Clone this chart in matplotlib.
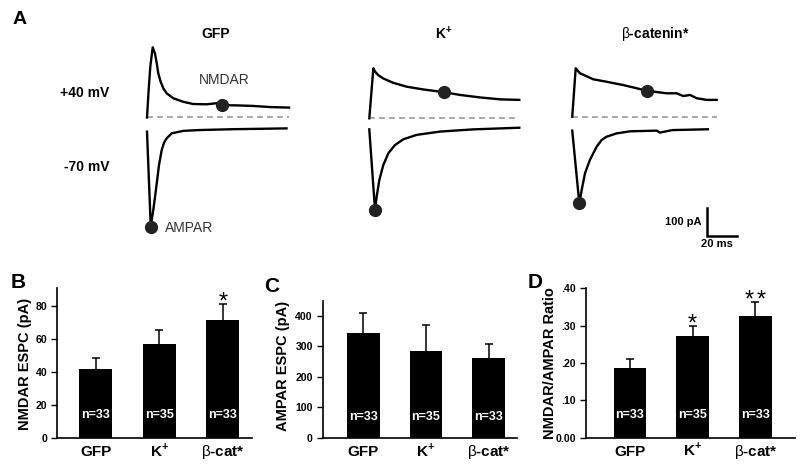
"""NMDAR / AMPAR currents: example traces and summary bars
"""

import numpy as np
import matplotlib.pyplot as plt
from matplotlib.transforms import blended_transform_factory

plt.rcParams['font.family'] = ['Liberation Sans', 'DejaVu Sans']
plt.rcParams['mathtext.fontset'] = 'custom'
plt.rcParams['mathtext.rm'] = 'Liberation Sans'
plt.rcParams['mathtext.bf'] = 'Liberation Sans:bold'

# Summary data (mean, sem)
groups = ['GFP', r'K$^{\mathbf{+}}$', r'$\mathrm{β}$-cat*']
n_cells = [33, 35, 33]
nmdar_mean = [42, 57, 71.5]
nmdar_sem = [6.5, 8.5, 10]
ampar_mean = [342, 284, 262]
ampar_sem = [66, 84, 44]
ratio_mean = [0.187, 0.272, 0.325]
ratio_sem = [0.025, 0.027, 0.039]
nmdar_stars = [0, 0, 1]
ratio_stars = [0, 1, 2]

# Example traces (ms, pA)
trace_titles = ['GFP', r'K$^{\mathbf{+}}$', r'$\mathrm{β}$-catenin*']
gfp_40_t = [0, 1.1, 2.2, 3.8, 5.3, 6.5, 7.5, 9.1, 10.9, 13.1, 17.5, 24.2, 30.9, 39.8,
            46.5, 48.7, 60, 70.7, 82, 94.7]
gfp_40_i = [0, 100, 185, 255, 233, 197, 161, 130, 106, 88, 70, 57, 49, 48,
            52, 45, 44, 42, 38, 36]
gfp_70_t = [0, 2.5, 4.2, 6.5, 8, 9.8, 11.3, 13.1, 16.5, 24.2, 35.3, 57.3, 93]
gfp_70_i = [-8, -353, -293, -196, -129, -75, -49, -32, -14, -5, -2, 1, 4]
k_40_t = [0, 2.7, 3.8, 6, 9.3, 16, 24.9, 36, 49.8, 60.5, 73.8, 87.1, 100]
k_40_i = [0, 182, 170, 157, 145, 129, 115, 105, 95, 85, 76, 69, 67]
k_70_t = [0, 3.8, 4.9, 6.7, 9.3, 12.7, 17.1, 22.7, 31.6, 47.1, 69.3, 100]
k_70_i = [-5, -298, -250, -189, -135, -92, -62, -41, -25, -13, -5, 1]
bc_40_t = [0, 2.3, 5.1, 14.0, 22.9, 34, 50, 62.9, 69.6, 74, 78.5, 83, 89.6, 96.3]
bc_40_i = [0, 176, 158, 136, 127, 115, 94, 85, 85, 75, 79, 67, 61, 61]
bc_70_t = [0, 4.7, 6.5, 8.5, 11.8, 16.3, 19.6, 22.9, 29.6, 38.5, 56.3, 58.5, 66.7, 90.4]
bc_70_i = [-6, -270, -216, -161, -112, -64, -40, -28, -16, -8.5, -6, -13, -4, -1]
nmdar_time = 50  # ms, where NMDAR component is read

# layout of the traces (ms / pA offsets)
T_SHIFT = [0, 148.2, 283.5]
Y40_SHIFT = [0, -3, 3]
Y70_SHIFT = [-43.6, -38.2, -41.8]

W, H = 800, 470
fig = plt.figure(figsize=(8, 4.7), dpi=100)


def px_text(x, y, s, **kw):
    fig.text(x / W, 1 - y / H, s, **kw)


def px_axes(left, top, right, bottom):
    return fig.add_axes([left / W, 1 - bottom / H, (right - left) / W, (bottom - top) / H])


# ---------------- panel A: traces ----------------
ax = px_axes(57, 8, 777, 262)
ax.set_xlim(-60, 420)
ax.set_ylim(-525.5, 398.2)
ax.axis('off')

traces = [(gfp_40_t, gfp_40_i, gfp_70_t, gfp_70_i),
          (k_40_t, k_40_i, k_70_t, k_70_i),
          (bc_40_t, bc_40_i, bc_70_t, bc_70_i)]
for k, (t40, i40, t70, i70) in enumerate(traces):
    t40 = np.array(t40) + T_SHIFT[k]
    t70 = np.array(t70) + T_SHIFT[k]
    y40 = np.array(i40) + Y40_SHIFT[k]
    y70 = np.array(i70) + Y70_SHIFT[k]
    ax.plot([t40[0], t40[-1]], [Y40_SHIFT[k]] * 2, ls=(0, (3.5, 2.5)), color='#9a9a9a', lw=1.2)
    ax.plot(t40, y40, color='black', lw=1.7, solid_joinstyle='round')
    ax.plot(t70, y70, color='black', lw=1.7, solid_joinstyle='round')
    tn = nmdar_time + T_SHIFT[k]
    ax.plot(tn, np.interp(tn, t40, y40), 'o', ms=8.5, color='#222222')
    imin = int(np.argmin(y70))
    ax.plot(t70[imin], y70[imin], 'o', ms=8.5, color='#222222')

# scale bar: 100 pA, 20 ms
sb_t, sb_i = 373.1, -429.8
ax.plot([sb_t, sb_t, sb_t + 20], [sb_i + 100, sb_i, sb_i], color='black', lw=1.8,
        solid_joinstyle='miter')
ax.text(sb_t - 3.5, sb_i + 50, '100 pA', ha='right', va='center', fontsize=8, fontweight='bold')
ax.text(sb_t + 7, sb_i - 12, '20 ms', ha='center', va='top', fontsize=8, fontweight='bold')

px_text(20, 19.5, 'A', fontsize=14, fontweight='bold', ha='center', va='center')
for xc, title in zip([216, 444, 655], trace_titles):
    px_text(xc, 34, title, fontsize=10, fontweight='bold', ha='center', va='center')
px_text(85, 92.7, '+40 mV', fontsize=10, fontweight='bold', ha='center', va='center')
px_text(87, 166.7, '-70 mV', fontsize=10, fontweight='bold', ha='center', va='center')
px_text(224, 80, 'NMDAR', fontsize=10, color='#333333', ha='center', va='center')
px_text(165, 228, 'AMPAR', fontsize=10, color='#333333', ha='left', va='center')


# ---------------- panels B, C, D: bars ----------------
def bar_panel(box, means, sems, stars, ylim, yticks, yticklabels, xlim, ylabel, ylabel_px):
    bx = px_axes(*box)
    x = np.arange(len(means))
    bx.bar(x, means, width=0.52, color='black', zorder=2)
    bx.errorbar(x, means, yerr=sems, fmt='none', ecolor='black',
                elinewidth=1.1, capsize=3, capthick=1.1, zorder=1)
    tr = blended_transform_factory(bx.transData, bx.transAxes)
    for xi, n in zip(x, n_cells):
        bx.text(xi, 0.15, 'n=%d' % n, transform=tr, color='white', fontsize=9,
                fontweight='bold', ha='center', va='center')
    for xi, m, s, ns in zip(x, means, sems, stars):
        for j in range(ns):
            dx = 0 if ns == 1 else (j - 0.5) * 9
            bx.annotate('*', xy=(xi, m + s), xytext=(dx, -3.5), textcoords='offset points',
                        ha='center', va='baseline', fontsize=17)
    bx.set_xlim(*xlim)
    bx.set_ylim(*ylim)
    bx.set_xticks(x)
    bx.set_xticklabels(groups, fontsize=11, fontweight='bold', va='baseline')
    bx.set_yticks(yticks)
    bx.set_yticklabels(yticklabels, fontsize=7.6, fontweight='bold')
    bx.tick_params(axis='x', length=0, pad=13)
    bx.tick_params(axis='y', direction='out', length=4, width=1, pad=3)
    for side in ['top', 'right']:
        bx.spines[side].set_visible(False)
    for side in ['left', 'bottom']:
        bx.spines[side].set_linewidth(1.2)
    px_text(ylabel_px[0], ylabel_px[1], ylabel, rotation=90, fontsize=10.5, fontweight='bold',
            ha='center', va='center')
    return bx


bar_panel((57, 288, 252, 438), nmdar_mean, nmdar_sem, nmdar_stars, (0, 91),
          [0, 20, 40, 60, 80], ['0', '20', '40', '60', '80'], (-0.61, 2.46),
          'NMDAR ESPC (pA)', (25, 364))
bar_panel((322.7, 300.7, 516.7, 438), ampar_mean, ampar_sem, [0, 0, 0], (0, 449),
          [0, 100, 200, 300, 400], ['0', '100', '200', '300', '400'], (-0.65, 2.45),
          'AMPAR ESPC (pA)', (283, 366))
bar_panel((586, 288.3, 795, 437.7), ratio_mean, ratio_sem, ratio_stars, (0, 0.40),
          [0, 0.1, 0.2, 0.3, 0.4], ['0.00', '.10', '.20', '.30', '.40'], (-0.70, 2.63),
          'NMDAR/AMPAR Ratio', (550, 363))

for xc, yc, letter in zip([18, 272, 535], [282, 286, 282], 'BCD'):
    px_text(xc, yc, letter, fontsize=15, fontweight='bold', ha='center', va='center')

fig.savefig('out.png', dpi=100)
